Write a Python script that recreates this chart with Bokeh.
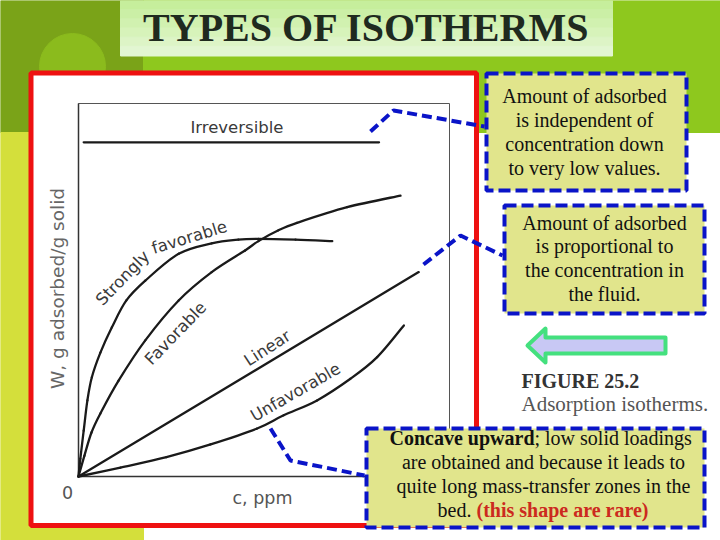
import math
from bokeh.plotting import figure
from bokeh.models import Range1d
from bokeh.embed import file_html
from bokeh.resources import INLINE
from bokeh.core.properties import value

# ---------------- chart data (c and W in relative units 0..1) ----------------
strong_c = [0, 0.005, 0.014, 0.024, 0.036, 0.059, 0.090, 0.129, 0.180, 0.270, 0.359, 0.431, 0.485, 0.585, 0.684]
strong_w = [0, 0.048, 0.123, 0.204, 0.266, 0.332, 0.400, 0.472, 0.525, 0.597, 0.625, 0.635, 0.637, 0.635, 0.631]
fav_c = [0, 0.016, 0.035, 0.059, 0.108, 0.180, 0.270, 0.359, 0.449, 0.485, 0.539, 0.589, 0.724, 0.868]
fav_w = [0, 0.056, 0.118, 0.169, 0.257, 0.365, 0.472, 0.548, 0.606, 0.631, 0.660, 0.680, 0.722, 0.753]
lin_c = [0, 0.917]
lin_w = [0, 0.548]
unf_c = [0, 0.113, 0.237, 0.356, 0.480, 0.553, 0.643, 0.733, 0.805, 0.877]
unf_w = [0, 0.024, 0.052, 0.086, 0.128, 0.164, 0.204, 0.262, 0.320, 0.405]
irr_c = [0.014, 0.810]
irr_w = [0.896, 0.896]

curve_labels = ["Strongly", "favorable", "Favorable", "Linear", "Unfavorable", "Irreversible"]
label_c = [0.119, 0.299, 0.262, 0.509, 0.585, 0.427]
label_w = [0.532, 0.641, 0.384, 0.344, 0.226, 0.936]
label_angle_deg = [46, 17, 46, 33, 30, 0]

x_title = "c, ppm"
y_title = "W, g adsorbed/g solid"
origin_label = "0"

slide_title = "TYPES OF ISOTHERMS"
note1 = ["Amount of adsorbed", "is independent of", "concentration down", "to very low values."]
note2 = ["Amount of adsorbed", "is proportional to", "the concentration in", "the fluid."]
note3_bold = "Concave upward"
note3_first = "; low solid loadings"
note3_mid = ["are obtained and because it leads to", "quite long mass-transfer zones in the"]
note3_last = "bed."
note3_red = "(this shape are rare)"
fig_caption = ["FIGURE 25.2", "Adsorption isotherms."]

# ---------------- layout (slide pixel space) ----------------
PX0, PX1, PY0, PY1 = 0, 720, 0, 540
BOX_L, BOX_R, BOX_T, BOX_B = 78, 449, 103, 476   # chart axes box in slide pixels

p = figure(width=PX1 - PX0, height=PY1 - PY0,
           x_range=Range1d(PX0, PX1), y_range=Range1d(PY1, PY0),
           x_axis_location=None, y_axis_location=None,
           output_backend="svg", toolbar_location=None, min_border=0)
p.grid.visible = False
p.outline_line_color = None
p.background_fill_color = "white"
p.border_fill_color = "white"

# chart data ranges mapped onto the axes box
sx = (BOX_R - BOX_L)
sy = (BOX_B - BOX_T)
p.extra_x_ranges = {"c": Range1d((PX0 - BOX_L) / sx, (PX1 - BOX_L) / sx)}
p.extra_y_ranges = {"w": Range1d((BOX_B - PY1) / sy, (BOX_B - PY0) / sy)}
CH = dict(x_range_name="c", y_range_name="w")

# slide background
p.quad(left=0, right=143, top=0, bottom=132, color="#7aa318")
p.quad(left=143, right=720, top=0, bottom=132, color="#8ec81e")
p.quad(left=0, right=143, top=132, bottom=540, color="#d4df3b")
p.circle(x=72, y=66, radius=33, color="#8bbb1d")

# title box with soft gradient
bands = ["#c6ee9c", "#cbefa6", "#d1f1b0", "#d7f3ba", "#ddf4c6", "#e2f6d2"]
for i, col in enumerate(bands):
    p.quad(left=120, right=612, top=i * 55 / len(bands), bottom=(i + 1) * 55 / len(bands) + 0.5,
           color=col)
p.text(x=[366], y=[27], text=[slide_title], text_font=value("Liberation Serif"),
       text_font_style="bold", text_font_size="40px", text_color="#1f2a1f",
       text_align="center", text_baseline="middle")

# red frame
p.quad(left=30.5, right=476, top=72.5, bottom=525, fill_color="white",
       line_color="#ee1111", line_width=5)

# chart box and axes
p.quad(left=0, right=1, bottom=0, top=1, fill_color=None, line_color="#555555",
       line_width=1, **CH)
p.line([0, 0], [0, 1], line_color="#333333", line_width=1.5, **CH)
p.line([0, 1], [0, 0], line_color="#333333", line_width=1.5, **CH)


def smooth_curve(xs, ys):
    """Draw a smooth (Catmull-Rom style) curve through the given data points."""
    n = len(xs)
    if n < 3:
        p.line(xs, ys, line_color="#1a1a1a", line_width=2.3, line_cap="round", **CH)
        return
    x0, y0, x1, y1, cx0, cy0, cx1, cy1 = ([] for _ in range(8))
    for i in range(n - 1):
        im1 = max(i - 1, 0)
        ip2 = min(i + 2, n - 1)
        x0.append(xs[i]); y0.append(ys[i])
        x1.append(xs[i + 1]); y1.append(ys[i + 1])
        cx0.append(xs[i] + (xs[i + 1] - xs[im1]) / 6)
        cy0.append(ys[i] + (ys[i + 1] - ys[im1]) / 6)
        cx1.append(xs[i + 1] - (xs[ip2] - xs[i]) / 6)
        cy1.append(ys[i + 1] - (ys[ip2] - ys[i]) / 6)
    p.bezier(x0=x0, y0=y0, x1=x1, y1=y1, cx0=cx0, cy0=cy0, cx1=cx1, cy1=cy1,
             line_color="#1a1a1a", line_width=2.3, line_cap="round", **CH)


for cs, ws in [(strong_c, strong_w), (fav_c, fav_w), (lin_c, lin_w), (unf_c, unf_w), (irr_c, irr_w)]:
    smooth_curve(cs, ws)

# curve labels
p.text(x=label_c, y=label_w, text=curve_labels, angle=[math.radians(a) for a in label_angle_deg],
       text_font=value("DejaVu Sans"), text_font_size="16.5px", text_color="#3a3a3a",
       text_align="center", text_baseline="middle", **CH)

# axis titles
p.text(x=[57], y=[288], text=[y_title], angle=math.pi / 2, text_font=value("DejaVu Sans"),
       text_font_size="18.5px", text_color="#666666", text_align="center", text_baseline="middle")
p.text(x=[262], y=[497], text=[x_title], text_font=value("DejaVu Sans"),
       text_font_size="17.5px", text_color="#555555", text_align="center", text_baseline="middle")
p.text(x=[67], y=[492], text=[origin_label], text_font=value("DejaVu Sans"),
       text_font_size="17.5px", text_color="#555555", text_align="center", text_baseline="middle")

# connectors
BLUE = "#0a14c8"
for xs, ys in [([370, 393, 484], [131, 110, 126]),
               ([423, 460, 502], [264, 235, 255]),
               ([270, 290, 364], [428, 460, 475])]:
    p.line(xs, ys, line_color=BLUE, line_width=4, line_dash="10 5")

# callout boxes
NOTE_FILL = "#e1e58c"
for l, r, t, b in [(486, 686, 73, 190), (504, 704, 205, 313), (366, 704, 428, 527)]:
    p.quad(left=l, right=r, top=t, bottom=b, fill_color=NOTE_FILL, line_color=BLUE,
           line_width=4, line_dash="12 5")

SERIF = value("Liberation Serif")
FS = "20px"
p.text(x=[584] * 4, y=[95, 119, 143, 167], text=note1, text_font=SERIF, text_font_size=FS,
       text_color="#111111", text_align="center", text_baseline="middle")
p.text(x=[604] * 4, y=[222, 245, 269, 293], text=note2, text_font=SERIF, text_font_size=FS,
       text_color="#111111", text_align="center", text_baseline="middle")
p.text(x=[534], y=[437], text=[note3_bold], text_font=SERIF, text_font_style="bold",
       text_font_size=FS, text_color="#111111", text_align="right", text_baseline="middle")
p.text(x=[534], y=[437], text=[note3_first], text_font=SERIF, text_font_size=FS,
       text_color="#111111", text_align="left", text_baseline="middle")
p.text(x=[543, 543], y=[461, 485], text=note3_mid, text_font=SERIF, text_font_size=FS,
       text_color="#111111", text_align="center", text_baseline="middle")
p.text(x=[471], y=[509], text=[note3_last], text_font=SERIF, text_font_size=FS,
       text_color="#111111", text_align="right", text_baseline="middle")
p.text(x=[476], y=[509], text=[note3_red], text_font=SERIF, text_font_style="bold",
       text_font_size=FS, text_color="#cc2a1e", text_align="left", text_baseline="middle")

# arrow pointing left
p.patch(x=[527, 545, 545, 665, 665, 545, 545], y=[345, 328, 337, 337, 353, 353, 362],
        fill_color="#c8c8f4", line_color="#44e07e", line_width=4, line_join="round")

# figure caption
p.text(x=[521], y=[380], text=[fig_caption[0]], text_font=SERIF, text_font_style="bold",
       text_font_size="20px", text_color="#333333", text_align="left", text_baseline="middle")
p.text(x=[521], y=[403], text=[fig_caption[1]], text_font=SERIF,
       text_font_size="21px", text_color="#555555", text_align="left", text_baseline="middle")

open("out.html", "w").write(file_html(p, INLINE))
